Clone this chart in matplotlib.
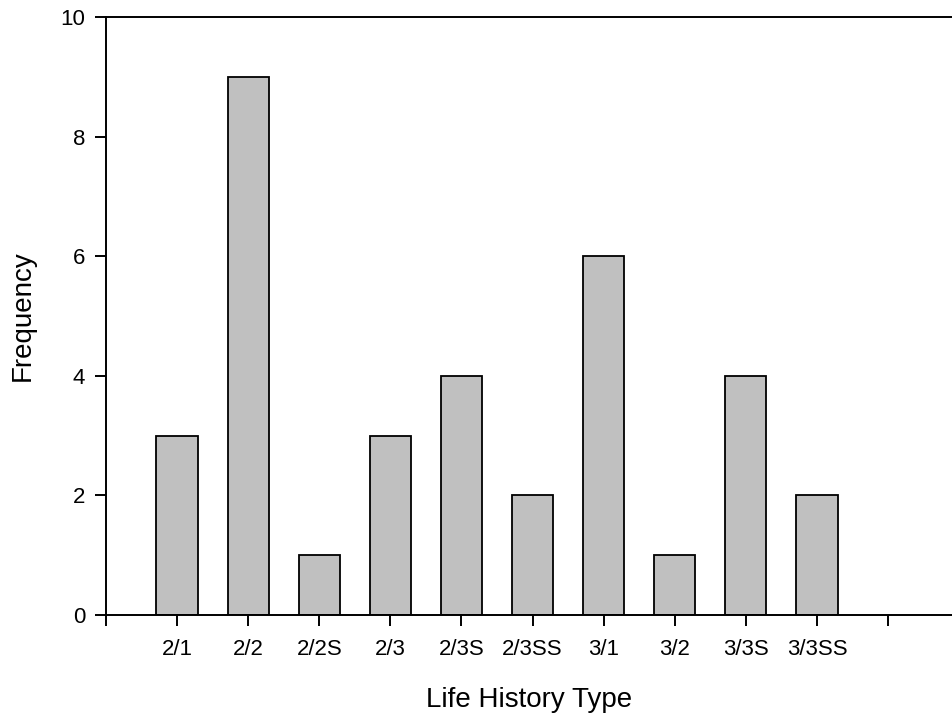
import matplotlib
matplotlib.use("Agg")
import matplotlib.pyplot as plt

# data
types = ['2/1', '2/2', '2/2S', '2/3', '2/3S', '2/3SS', '3/1', '3/2', '3/3S', '3/3SS']
freq = [3, 9, 1, 3, 4, 2, 6, 1, 4, 2]

plt.rcParams['font.family'] = ['Liberation Sans', 'DejaVu Sans']

fig = plt.figure(figsize=(9.52, 7.21), dpi=100)
ax = fig.add_axes([106 / 952, 1 - 615 / 721, 1 - 106 / 952, (615 - 17) / 721])

pos = list(range(1, len(types) + 1))
ax.bar(pos, freq, width=0.58, color='#c0c0c0', edgecolor='black', linewidth=1.3)

ax.set_xlim(0, 11.9)
ax.set_ylim(0, 10)
ax.set_xticks(range(0, 12))
ax.set_xticklabels([''] + types + [''])
ax.set_yticks([0, 2, 4, 6, 8, 10])

ax.spines['right'].set_visible(False)
for s in ['left', 'bottom', 'top']:
    ax.spines[s].set_linewidth(1.4)
ax.tick_params(axis='both', direction='out', length=8, width=1.4, labelsize=16)
ax.tick_params(axis='x', pad=9.5)
ax.tick_params(axis='y', pad=7)

ax.set_xlabel('Life History Type', fontsize=20, labelpad=19)
ax.set_ylabel('Frequency', fontsize=20, labelpad=18)

fig.savefig('out.png', dpi=100)
